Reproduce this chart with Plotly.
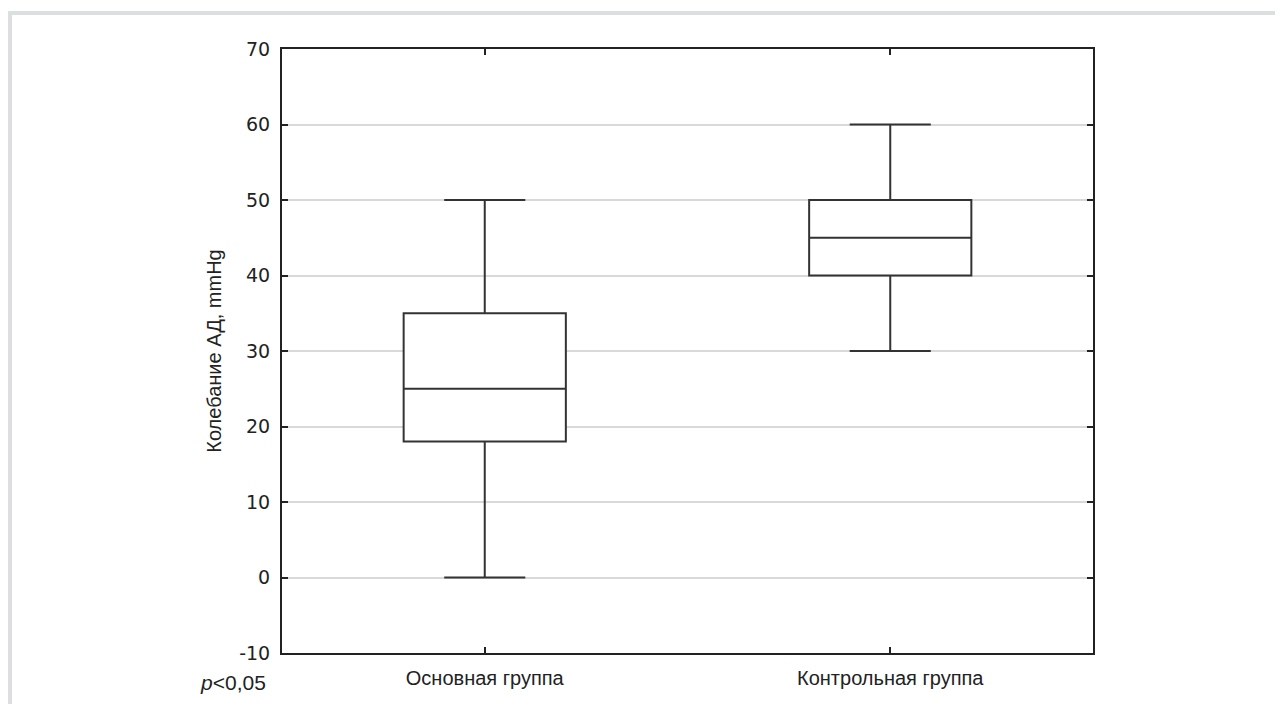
import plotly.graph_objects as go

categories = ["Основная группа", "Контрольная группа"]
lower_whisker = [0, 30]
q1_values = [18, 40]
medians = [25, 45]
q3_values = [35, 50]
upper_whisker = [50, 60]
y_ticks = [-10, 0, 10, 20, 30, 40, 50, 60, 70]

# default body margin of the page
OFF = 8
PAGE_W, PAGE_H = 1283, 712
W, H = PAGE_W - 2 * OFF, PAGE_H - 2 * OFF
# desired page-pixel plot area: left 282, right 1093, top 49, bottom 653
L, T = 282 - OFF, 49 - OFF
R = (OFF + W) - 1093
B = (OFF + H) - 653
pw, ph = W - L - R, H - T - B


def px(xpage):
    return (xpage - OFF - L) / pw


def py(ypage):
    return (H - B - (ypage - OFF)) / ph


fig = go.Figure()
fig.add_trace(go.Box(
    x=categories,
    q1=q1_values, median=medians, q3=q3_values,
    lowerfence=lower_whisker, upperfence=upper_whisker,
    width=0.4, whiskerwidth=0.5,
    fillcolor="white",
    line=dict(color="#333333", width=2),
    boxpoints=False, hoverinfo="skip", showlegend=False,
))

axis_common = dict(
    showline=True, linecolor="#222222", linewidth=2, mirror="ticks",
    ticks="inside", ticklen=6, tickwidth=2, tickcolor="#222222",
    zeroline=False,
)

fig.update_xaxes(
    type="category", range=[-0.5, 1.5], showgrid=False,
    tickfont=dict(family="Liberation Sans, Arial", size=20, color="#222222"),
    ticklabelstandoff=6,
    **axis_common,
)
fig.update_yaxes(
    range=[-10, 70], tickvals=y_ticks,
    ticktext=[str(v) for v in y_ticks],
    showgrid=True, gridcolor="#d9d9d9", gridwidth=1.5,
    tickfont=dict(family="DejaVu Sans", size=19, color="#222222"),
    ticklabelstandoff=6,
    title=dict(text="Колебание АД, mmHg", standoff=12,
               font=dict(family="Liberation Sans, Arial", size=20, color="#222222")),
    **axis_common,
)

# light gray page frame: only top and left edges are visible in the reference
frame = dict(color="#dcdfe0", width=4)
fig.add_shape(type="line", xref="paper", yref="paper", layer="below",
              x0=px(8), x1=px(1320), y0=py(13), y1=py(13), line=frame)
fig.add_shape(type="line", xref="paper", yref="paper", layer="below",
              x0=px(10), x1=px(10), y0=py(11), y1=py(740), line=frame)

fig.add_annotation(
    xref="paper", yref="paper",
    x=px(268), y=py(682),
    xanchor="right", yanchor="middle", showarrow=False,
    text="<i>p</i><0,05",
    font=dict(family="Liberation Sans, Arial", size=21, color="#222222"),
)

fig.update_layout(
    width=W, height=H,
    margin=dict(l=L, r=R, t=T, b=B),
    paper_bgcolor="white", plot_bgcolor="white",
)

fig.write_html("out.html")
